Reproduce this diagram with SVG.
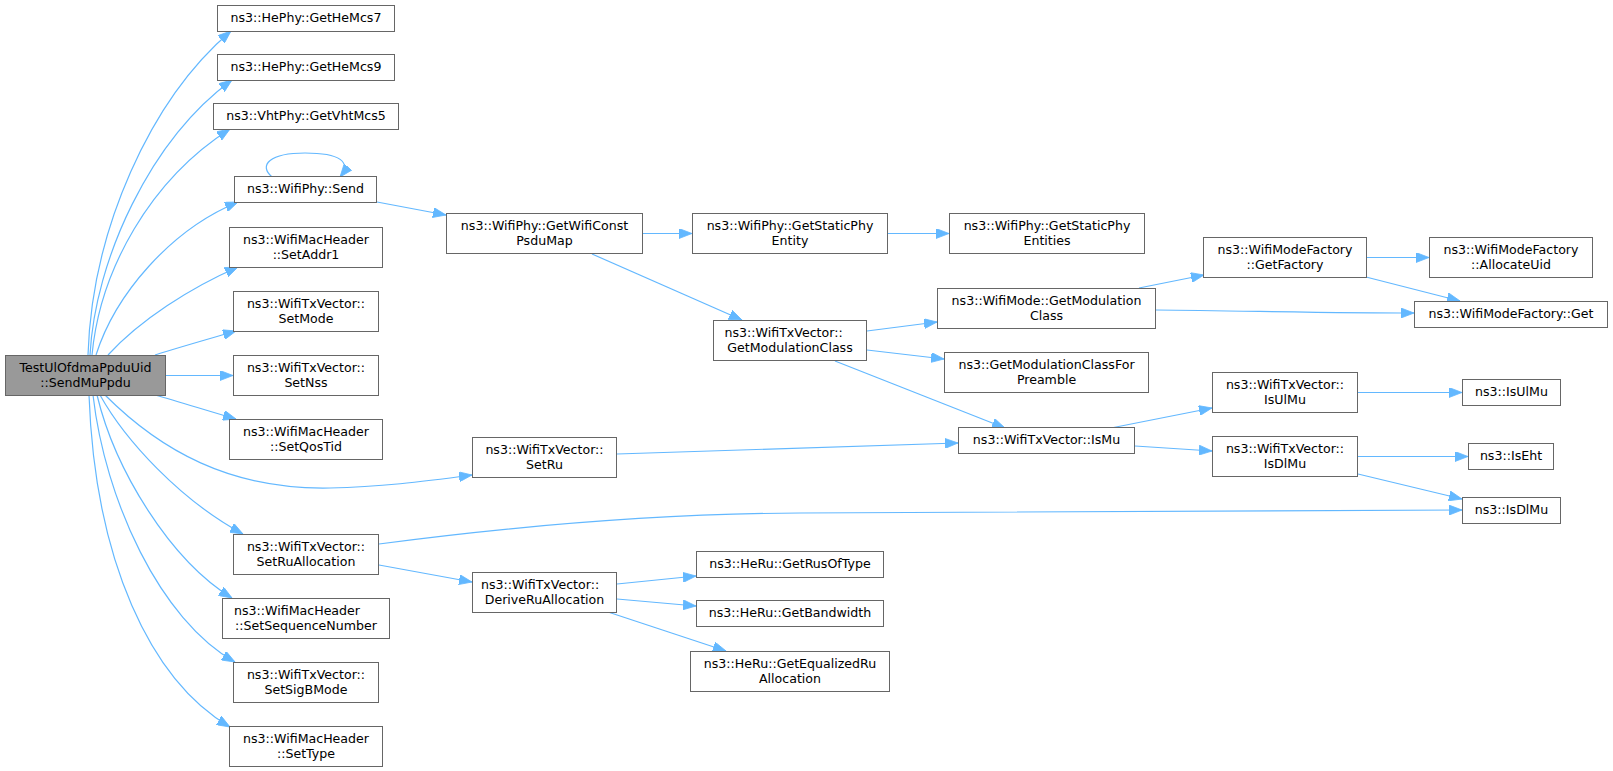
<svg xmlns="http://www.w3.org/2000/svg" width="1613" height="771" viewBox="0 0 1613 771">
<defs>
<marker id="ah" markerUnits="userSpaceOnUse" markerWidth="13" markerHeight="10" viewBox="0 0 13 10" refX="13" refY="5" orient="auto">
<path d="M0,0 L13,5 L0,10 z" fill="#63B8FF" stroke="#63B8FF" stroke-width="0.8"/>
</marker>
</defs>
<style>
.node rect{fill:#ffffff;stroke:#666666;stroke-width:1}
.root rect{fill:#999999;stroke:#666666;stroke-width:1}
text{font-family:"DejaVu Sans","Liberation Sans",sans-serif;font-size:12.6px;fill:#000000;text-anchor:middle}
text.l{text-anchor:start}
.edges path{fill:none;stroke:#63B8FF;stroke-width:1.2;marker-end:url(#ah)}
</style>
<rect x="0" y="0" width="1613" height="771" fill="#ffffff"/>
<g id="connectors" class="edges">
<path d="M88,355 C92,230 150,100 231,31"/>
<path d="M90,355 C95,260 150,140 232,80"/>
<path d="M92,355 C100,270 150,180 230,129"/>
<path d="M96,355 C115,295 170,230 238,202"/>
<path d="M108,355 C140,320 190,288 238,267"/>
<path d="M155,355 C180,347 205,340 236,331"/>
<path d="M166,375.5 L233,375.5"/>
<path d="M155,395 C180,402 205,410 236,419"/>
<path d="M105,395 C160,450 230,490 330,488 C380,487 420,482 472,475"/>
<path d="M100,395 C125,440 180,500 243,534"/>
<path d="M97,395 C115,470 170,560 232,598"/>
<path d="M93,395 C105,500 160,620 235,662"/>
<path d="M89,395 C95,560 150,680 230,727"/>
<path d="M272,177 C258,165 270,153 305,153 C340,153 352,162 340,177"/>
<path d="M377,202 L446,215"/>
<path d="M643,233.5 L692,233.5"/>
<path d="M592,254 L742,320"/>
<path d="M887,233.5 L949,233.5"/>
<path d="M867,331 L937,322"/>
<path d="M867,350 L944,359"/>
<path d="M835,361 L1005,428"/>
<path d="M1139,288 L1204,275"/>
<path d="M1156,310 C1250,311 1340,313 1414,313"/>
<path d="M1367,257.5 L1429,257.5"/>
<path d="M1366,277 L1460,301"/>
<path d="M1111,428 L1212,408"/>
<path d="M1135,446 L1212,451"/>
<path d="M617,454 L958,443"/>
<path d="M1358,392.5 L1462,392.5"/>
<path d="M1358,456.5 L1468,456.5"/>
<path d="M1358,474 L1462,499"/>
<path d="M379,544 C500,528 640,514 800,513 C1100,512 1300,511 1462,510"/>
<path d="M379,565 L472,582"/>
<path d="M617,584 L696,576"/>
<path d="M617,599 L696,606"/>
<path d="M608,612 L726,651"/>
</g>
<g id="n0" class="root"><rect x="5.5" y="355.5" width="160" height="40"/><text x="85.5" y="371.8">TestUlOfdmaPpduUid</text><text x="85.5" y="386.5">::SendMuPpdu</text></g>
<g id="n1" class="node"><rect x="217.5" y="5.5" width="177" height="26"/><text x="306" y="22.2">ns3::HePhy::GetHeMcs7</text></g>
<g id="n2" class="node"><rect x="217.5" y="54.5" width="177" height="26"/><text x="306" y="71.2">ns3::HePhy::GetHeMcs9</text></g>
<g id="n3" class="node"><rect x="213.5" y="103.5" width="185" height="26"/><text x="306" y="120.2">ns3::VhtPhy::GetVhtMcs5</text></g>
<g id="n4" class="node"><rect x="234.5" y="176.5" width="142" height="26"/><text x="305.5" y="193.2">ns3::WifiPhy::Send</text></g>
<g id="n5" class="node"><rect x="229.5" y="227.5" width="153" height="40"/><text x="306" y="243.8">ns3::WifiMacHeader</text><text x="306" y="258.5">::SetAddr1</text></g>
<g id="n6" class="node"><rect x="233.5" y="291.5" width="145" height="40"/><text x="306" y="307.8">ns3::WifiTxVector::</text><text x="306" y="322.5">SetMode</text></g>
<g id="n7" class="node"><rect x="233.5" y="355.5" width="145" height="40"/><text x="306" y="371.8">ns3::WifiTxVector::</text><text x="306" y="386.5">SetNss</text></g>
<g id="n8" class="node"><rect x="229.5" y="419.5" width="153" height="40"/><text x="306" y="435.8">ns3::WifiMacHeader</text><text x="306" y="450.5">::SetQosTid</text></g>
<g id="n9" class="node"><rect x="472.5" y="437.5" width="144" height="40"/><text x="544.5" y="453.8">ns3::WifiTxVector::</text><text x="544.5" y="468.5">SetRu</text></g>
<g id="n10" class="node"><rect x="233.5" y="534.5" width="145" height="40"/><text x="306" y="550.8">ns3::WifiTxVector::</text><text x="306" y="565.5">SetRuAllocation</text></g>
<g id="n11" class="node"><rect x="222.5" y="598.5" width="167" height="40"/><text class="l" x="234" y="614.8">ns3::WifiMacHeader</text><text x="306" y="629.5">::SetSequenceNumber</text></g>
<g id="n12" class="node"><rect x="233.5" y="662.5" width="145" height="40"/><text x="306" y="678.8">ns3::WifiTxVector::</text><text x="306" y="693.5">SetSigBMode</text></g>
<g id="n13" class="node"><rect x="229.5" y="726.5" width="153" height="40"/><text x="306" y="742.8">ns3::WifiMacHeader</text><text x="306" y="757.5">::SetType</text></g>
<g id="n14" class="node"><rect x="446.5" y="213.5" width="196" height="40"/><text x="544.5" y="229.8">ns3::WifiPhy::GetWifiConst</text><text x="544.5" y="244.5">PsduMap</text></g>
<g id="n15" class="node"><rect x="692.5" y="213.5" width="195" height="40"/><text x="790" y="229.8">ns3::WifiPhy::GetStaticPhy</text><text x="790" y="244.5">Entity</text></g>
<g id="n16" class="node"><rect x="949.5" y="213.5" width="195" height="40"/><text x="1047" y="229.8">ns3::WifiPhy::GetStaticPhy</text><text x="1047" y="244.5">Entities</text></g>
<g id="n17" class="node"><rect x="713.5" y="320.5" width="153" height="40"/><text class="l" x="724.5" y="336.8">ns3::WifiTxVector::</text><text x="790" y="351.5">GetModulationClass</text></g>
<g id="n18" class="node"><rect x="937.5" y="288.5" width="218" height="40"/><text x="1046.5" y="304.8">ns3::WifiMode::GetModulation</text><text x="1046.5" y="319.5">Class</text></g>
<g id="n19" class="node"><rect x="944.5" y="352.5" width="204" height="40"/><text x="1046.5" y="368.8">ns3::GetModulationClassFor</text><text x="1046.5" y="383.5">Preamble</text></g>
<g id="n20" class="node"><rect x="958.5" y="427.5" width="176" height="26"/><text x="1046.5" y="444.2">ns3::WifiTxVector::IsMu</text></g>
<g id="n21" class="node"><rect x="1203.5" y="237.5" width="163" height="40"/><text x="1285" y="253.8">ns3::WifiModeFactory</text><text x="1285" y="268.5">::GetFactory</text></g>
<g id="n22" class="node"><rect x="1429.5" y="237.5" width="163" height="40"/><text x="1511" y="253.8">ns3::WifiModeFactory</text><text x="1511" y="268.5">::AllocateUid</text></g>
<g id="n23" class="node"><rect x="1414.5" y="301.5" width="193" height="26"/><text x="1511" y="318.2">ns3::WifiModeFactory::Get</text></g>
<g id="n24" class="node"><rect x="1212.5" y="372.5" width="145" height="40"/><text x="1285" y="388.8">ns3::WifiTxVector::</text><text x="1285" y="403.5">IsUlMu</text></g>
<g id="n25" class="node"><rect x="1212.5" y="436.5" width="145" height="40"/><text x="1285" y="452.8">ns3::WifiTxVector::</text><text x="1285" y="467.5">IsDlMu</text></g>
<g id="n26" class="node"><rect x="1462.5" y="379.5" width="98" height="26"/><text x="1511.5" y="396.2">ns3::IsUlMu</text></g>
<g id="n27" class="node"><rect x="1468.5" y="443.5" width="85" height="26"/><text x="1511" y="460.2">ns3::IsEht</text></g>
<g id="n28" class="node"><rect x="1462.5" y="497.5" width="98" height="26"/><text x="1511.5" y="514.2">ns3::IsDlMu</text></g>
<g id="n29" class="node"><rect x="472.5" y="572.5" width="144" height="40"/><text class="l" x="481" y="588.8">ns3::WifiTxVector::</text><text x="544.5" y="603.5">DeriveRuAllocation</text></g>
<g id="n30" class="node"><rect x="696.5" y="551.5" width="187" height="26"/><text x="790" y="568.2">ns3::HeRu::GetRusOfType</text></g>
<g id="n31" class="node"><rect x="696.5" y="600.5" width="187" height="26"/><text x="790" y="617.2">ns3::HeRu::GetBandwidth</text></g>
<g id="n32" class="node"><rect x="690.5" y="651.5" width="199" height="40"/><text x="790" y="667.8">ns3::HeRu::GetEqualizedRu</text><text x="790" y="682.5">Allocation</text></g>
</svg>
